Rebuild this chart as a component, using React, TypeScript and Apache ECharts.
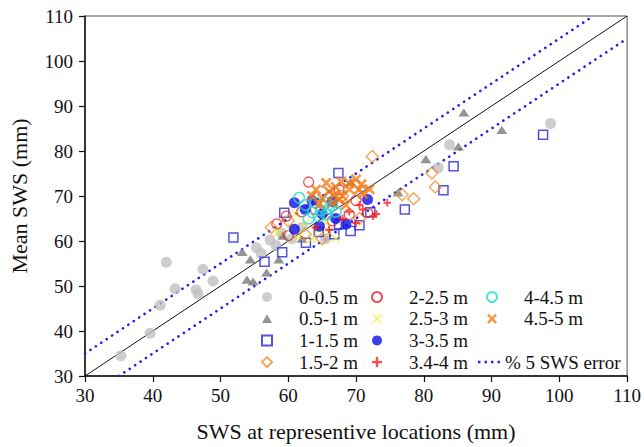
import React, { useEffect, useRef } from "react";
import * as echarts from "echarts";

const xTicks = { min: 30, max: 110, interval: 10 };

const seriesNames = [
  "0-0.5 m", "0.5-1 m", "1-1.5 m", "1.5-2 m",
  "2-2.5 m", "2.5-3 m", "3-3.5 m", "3.4-4 m",
  "4-4.5 m", "4.5-5 m",
];
const errorName = "% 5 SWS error";

const d00_05 = [[35.3,34.5],[39.6,39.5],[41.1,45.7],[42.0,55.3],[43.3,49.4],[46.4,49.1],[46.7,48.2],[47.4,53.7],[48.9,51.1],[55.3,58.5],[56.0,57.2],[57.3,60.2],[58.2,59.0],[59.0,61.8],[60.5,60.5],[62.0,63.0],[65.5,60.5],[83.8,81.4],[82.1,76.3],[98.7,86.1]];
const d05_1 = [[53.2,57.6],[54.4,55.9],[53.9,51.4],[54.8,51.0],[56.8,53.0],[58.6,55.9],[59.2,61.2],[85.9,88.6],[91.5,84.7],[85.1,81.0],[80.3,78.2],[76.2,70.8],[69.2,73.1],[62.0,60.5]];
const d1_15 = [[51.9,60.8],[56.5,55.4],[59.1,57.5],[62.6,59.6],[59.4,66.3],[97.6,83.6],[84.4,76.6],[82.9,71.3],[77.2,67.0],[67.4,75.1],[72.1,66.4],[69.2,62.2],[66.8,61.5],[67.5,63.7],[64.5,62.0],[70.5,63.5]];
const d15_2 = [[72.4,78.8],[81.2,75.1],[81.7,72.0],[78.5,69.4],[76.8,70.3],[57.5,63.0],[60.0,64.5],[65.0,60.5],[62.5,61.5],[70.5,65.0],[68.0,70.0]];
const d2_25 = [[63.0,73.1],[58.3,63.8],[59.7,65.5],[60.0,61.2],[69.0,65.9],[71.7,66.3],[67.5,71.4],[64.0,67.0],[62.0,66.5],[66.5,64.5],[70.0,69.0]];
const d25_3 = [[58.5,62.0],[60.5,63.0],[61.5,61.0],[63.5,60.5],[64.5,62.5],[66.0,62.0],[67.0,60.5],[62.5,64.0],[65.5,64.0],[61.0,66.0]];
const d3_35 = [[60.9,68.5],[71.7,69.2],[60.9,62.6],[64.6,63.3],[68.5,63.7],[66.5,68.8],[62.5,67.0],[63.5,69.0],[67.0,65.0],[65.0,66.0]];
const d34_4 = [[74.6,68.5],[71.0,67.0],[69.0,66.5],[70.0,64.0],[68.0,65.0],[72.5,65.5],[66.0,62.5],[64.0,63.0],[70.5,68.0],[73.0,66.0]];
const d4_45 = [[61.6,69.6],[62.5,68.0],[63.6,66.3],[64.5,65.5],[65.6,65.9],[66.0,67.2],[66.5,67.8],[64.0,68.5],[67.0,66.5],[63.0,65.0],[65.5,68.5],[64.8,66.8]];
const d45_5 = [[64.1,71.4],[65.6,72.9],[70.0,73.7],[70.4,71.4],[67.5,69.2],[66.0,71.0],[67.0,72.0],[68.0,70.0],[69.0,71.5],[71.0,70.5],[66.5,68.5],[68.5,68.0],[63.5,70.0],[72.0,71.5],[65.0,69.5],[69.0,72.8],[67.8,73.2],[66.8,70.2],[70.8,72.6],[64.6,68.2]];

const oneToOne = [[30, 30], [110, 110]];
const errUpper = [[30, 35], [105, 110]];
const errLower = [[35, 30], [110, 105]];

const FONT = "Liberation Serif";
const X_THICK = "path://M0,1.7L1.7,0L5,3.3L8.3,0L10,1.7L6.7,5L10,8.3L8.3,10L5,6.7L1.7,10L0,8.3L3.3,5Z";
const X_THIN = "path://M0,0.9L0.9,0L5,4.1L9.1,0L10,0.9L5.9,5L10,9.1L9.1,10L5,5.9L0.9,10L0,9.1L4.1,5Z";
const PLUS = "path://M3.8,0H6.2V3.8H10V6.2H6.2V10H3.8V6.2H0V3.8H3.8Z";
const TRI = "path://M5,0L10,8.66L0,8.66Z";
const DOTS = "path://M0,0h2.4v2.4h-2.4zM6.5,0h2.4v2.4h-2.4zM13,0h2.4v2.4h-2.4zM19.5,0h2.4v2.4h-2.4z";

export default function App() {
  const ref = useRef<HTMLDivElement>(null);
  useEffect(() => {
    if (!ref.current) return;
    document.body.style.margin = "0";
    const chart = echarts.init(ref.current, null, { renderer: "svg" });
    const empty = "rgba(255,255,255,0)";
    const scat = (name: string, data: number[][], symbol: string, size: any, itemStyle: any) => ({
      name, type: "scatter", data, symbol, symbolSize: size, itemStyle, z: 3, symbolKeepAspect: true,
    });
    const series: any[] = [
      scat(seriesNames[0], d00_05, "circle", 11, { color: "#c0c0c0" }),
      scat(seriesNames[1], d05_1, TRI, [11, 9.5], { color: "#7a7a7a" }),
      scat(seriesNames[2], d1_15, "rect", 9, { color: empty, borderColor: "#2828d8", borderWidth: 1.5 }),
      scat(seriesNames[3], d15_2, "diamond", 12, { color: empty, borderColor: "#f0902a", borderWidth: 1.4 }),
      scat(seriesNames[4], d2_25, "circle", 10, { color: empty, borderColor: "#e02a2a", borderWidth: 1.3 }),
      scat(seriesNames[5], d25_3, X_THIN, 9, { color: "#f2ee10" }),
      scat(seriesNames[6], d3_35, "circle", 11, { color: "#1010e6" }),
      scat(seriesNames[7], d34_4, PLUS, 7.5, { color: "#ff1a1a" }),
      scat(seriesNames[8], d4_45, "circle", 10.5, { color: empty, borderColor: "#22dada", borderWidth: 1.5 }),
      scat(seriesNames[9], d45_5, X_THICK, 11, { color: "#f07a14" }),
      {
        name: "1:1", type: "line", data: oneToOne, symbol: "none", z: 2,
        lineStyle: { color: "#111", width: 1 },
      },
      {
        name: errorName, type: "line", data: errUpper, symbol: "none", z: 2,
        lineStyle: { color: "#2020e0", width: 2.6, type: [0.1, 6.4], cap: "round" },
        itemStyle: { color: "#2020e0" },
      },
      {
        name: errorName, type: "line", data: errLower, symbol: "none", z: 2,
        lineStyle: { color: "#2020e0", width: 2.6, type: [0.1, 6.4], cap: "round" },
        itemStyle: { color: "#2020e0" },
      },
    ];
    const legendBase = {
      orient: "vertical", itemWidth: 10, itemHeight: 10, itemGap: 2.7,
      selectedMode: false, symbolKeepAspect: true,
      textStyle: { fontFamily: FONT, fontSize: 19, color: "#111", padding: [0, 0, 0, 22] },
      padding: 0,
    };
    const axisCommon = {
      type: "value", min: xTicks.min, max: xTicks.max, interval: xTicks.interval,
      splitLine: { show: false },
      axisLine: { lineStyle: { color: "#111", width: 1.5 } },
      axisTick: { length: 6, lineStyle: { color: "#111", width: 1.2 } },
      axisLabel: { fontFamily: FONT, fontSize: 19, color: "#111" },
      nameLocation: "middle",
      nameTextStyle: { fontFamily: FONT, fontSize: 22, color: "#111" },
    };
    chart.setOption({
      animation: false,
      backgroundColor: "#fff",
      grid: { left: 84, right: 14, top: 16, bottom: 70, show: true, borderColor: "#555", borderWidth: 1 },
      xAxis: { ...axisCommon, name: "SWS at representive locations (mm)", nameGap: 44,
        axisLabel: { ...axisCommon.axisLabel, margin: 10 } },
      yAxis: { ...axisCommon, name: "Mean SWS (mm)", nameGap: 55,
        axisLabel: { ...axisCommon.axisLabel, margin: 12 } },
      legend: [
        { ...legendBase, left: 261, top: 287.5, data: seriesNames.slice(0, 4) },
        { ...legendBase, left: 371, top: 287.5, data: seriesNames.slice(4, 8) },
        { ...legendBase, left: 486, top: 287.5, data: seriesNames.slice(8, 10) },
        { ...legendBase, left: 478, top: 352.5, itemWidth: 22, itemHeight: 2.4,
          textStyle: { fontFamily: FONT, fontSize: 19, color: "#111" },
          data: [{ name: errorName, icon: DOTS }] },
      ],
      series,
    });
    return () => chart.dispose();
  }, []);
  return <div ref={ref} style={{ width: 644, height: 447 }} />;
}
